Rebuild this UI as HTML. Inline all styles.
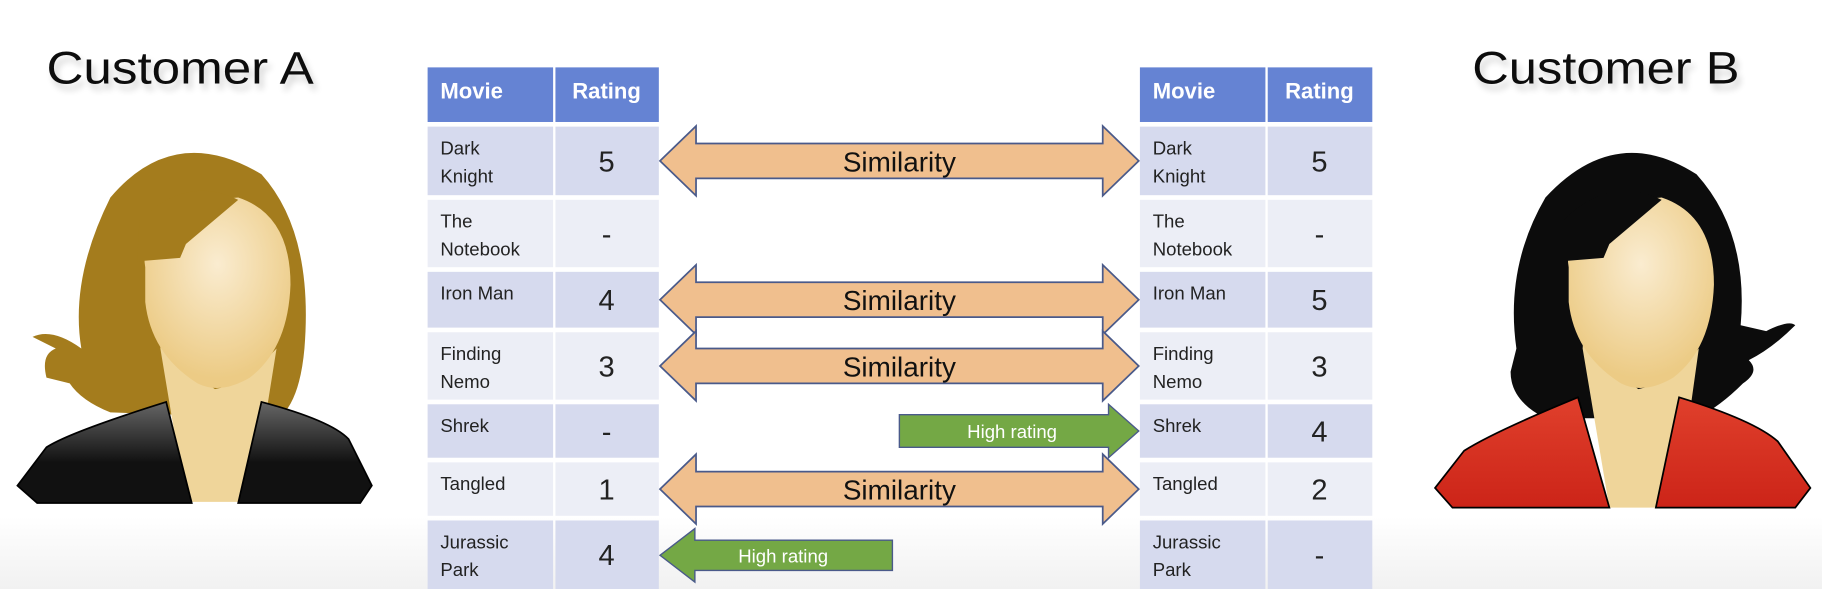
<!DOCTYPE html>
<html><head><meta charset="utf-8"><style>
html,body{margin:0;padding:0;background:#fff;}
svg{display:block;}
text{font-family:"Liberation Sans",sans-serif;}
</style></head><body>
<svg width="1822" height="589" viewBox="0 0 1568 507" preserveAspectRatio="none">
<defs>
<linearGradient id="bg" x1="0" y1="0" x2="0" y2="1"><stop offset="0" stop-color="#fff"/><stop offset="1" stop-color="#f1f1f1"/></linearGradient>
<radialGradient id="skin" cx="0.5" cy="0.35" r="0.6"><stop offset="0" stop-color="#faecd0"/><stop offset="1" stop-color="#eccb85"/></radialGradient>
<linearGradient id="blk" x1="0" y1="0" x2="0" y2="1"><stop offset="0" stop-color="#666"/><stop offset="0.6" stop-color="#111"/></linearGradient>
<linearGradient id="red" x1="0" y1="0" x2="0" y2="1"><stop offset="0" stop-color="#e0402c"/><stop offset="1" stop-color="#cc2418"/></linearGradient>
<filter id="sh" x="-10%" y="-30%" width="120%" height="160%"><feGaussianBlur in="SourceAlpha" stdDeviation="3"/><feOffset dx="3" dy="5"/><feComponentTransfer><feFuncA type="linear" slope="0.18"/></feComponentTransfer><feMerge><feMergeNode/><feMergeNode in="SourceGraphic"/></feMerge></filter>
</defs>
<rect x="0" y="0" width="1568" height="507" fill="#fff"/>
<rect x="0" y="445" width="1568" height="62" fill="url(#bg)"/>

<text x="40" y="72" font-size="39" fill="#111" textLength="230" lengthAdjust="spacingAndGlyphs" filter="url(#sh)">Customer A</text>
<text x="1267" y="72" font-size="39" fill="#111" textLength="230" lengthAdjust="spacingAndGlyphs" filter="url(#sh)">Customer B</text>

<g>
<path d="M70,300 Q60,240 95,170 Q150,105 225,150 Q270,200 262,300 Q258,345 240,360 L95,355 Q70,345 60,330 L40,325 Q35,305 48,300 L28,290 Q45,282 70,300 Z" fill="#a47c1d"/>
<path d="M138,300 L140,260 Q160,320 185,335 Q210,330 238,300 L230,350 L210,432 L160,432 Z" fill="#efd59a"/>
<path d="M125,230 Q120,200 150,175 L205,170 Q250,185 250,245 Q248,300 215,325 Q190,340 170,330 Q130,305 125,260 Z" fill="url(#skin)"/>
<path d="M118,225 L155,222 L160,210 L205,172 Q160,150 120,190 Z" fill="#a47c1d"/>
<path d="M15,418 L40,385 Q60,372 143,346 L165,433 L32,433 Z" fill="url(#blk)" stroke="#000" stroke-width="1.5"/>
<path d="M205,433 L225,346 Q285,362 300,378 L320,418 L310,433 Z" fill="url(#blk)" stroke="#000" stroke-width="1.5"/>
</g>

<g>
<path d="M1305,300 Q1295,230 1330,170 Q1390,105 1460,150 Q1505,200 1498,280 L1520,285 Q1540,275 1545,280 Q1525,300 1505,310 Q1515,320 1500,330 Q1480,350 1460,360 L1330,360 Q1300,345 1300,320 Z" fill="#0c0c0c"/>
<path d="M1362,300 L1365,260 Q1385,320 1410,335 Q1435,330 1462,300 L1455,350 L1440,437 L1385,437 Z" fill="#efd59a"/>
<path d="M1350,230 Q1345,200 1375,175 L1430,170 Q1475,185 1475,245 Q1473,300 1440,325 Q1415,340 1395,330 Q1355,305 1350,260 Z" fill="url(#skin)"/>
<path d="M1343,225 L1380,222 L1385,210 L1430,172 Q1385,150 1345,190 Z" fill="#0c0c0c"/>
<path d="M1235,420 L1260,388 Q1285,372 1358,342 L1385,437 L1250,437 Z" fill="url(#red)" stroke="#000" stroke-width="1.5"/>
<path d="M1425,437 L1445,342 Q1510,362 1530,380 L1558,420 L1545,437 Z" fill="url(#red)" stroke="#000" stroke-width="1.5"/>
</g>

<g id="tables"></g>
<g id="arrows"></g>
</svg>
<script>
const movies = [["Dark","Knight"],["The","Notebook"],["Iron Man"],["Finding","Nemo"],["Shrek"],["Tangled"],["Jurassic","Park"]];
const ratingsA = ["5","-","4","3","-","1","4"];
const ratingsB = ["5","-","5","3","4","2","-"];
const similarRows = [0,2,3,5];
const highRatingToB = [4];
const highRatingToA = [6];

const NS="http://www.w3.org/2000/svg";
const rowTop=[109,172,234,286,348,398,448];
const rowBot=[168,230,282,344,394,444,510];
function mk(tag,attrs,parent){const e=document.createElementNS(NS,tag);for(const k in attrs)e.setAttribute(k,attrs[k]);parent.appendChild(e);return e;}
const tg=document.getElementById('tables');
function table(x0,xd,x1,ratings,side){
  const g=mk('g',{},tg);
  
  
  mk('rect',{x:x0,y:58,width:xd-x0-1,height:47,fill:'#6583d3'},g);
  mk('rect',{x:xd+1,y:58,width:x1-xd-1,height:47,fill:'#6583d3'},g);
  const h1=mk('text',{x:x0+11,y:85,'font-size':19,'font-weight':'bold',fill:'#fff'},g);h1.textContent='Movie';
  
  
  const h2=mk('text',{x:(xd+x1)/2,y:85,'font-size':19,'font-weight':'bold',fill:'#fff','text-anchor':'middle'},g);h2.textContent='Rating';
  
  
  movies.forEach((m,i)=>{
    const fill=i%2===0?'#d6daee':'#eceef6';
    const r=mk('rect',{x:x0,y:rowTop[i],width:xd-x0-1,height:rowBot[i]-rowTop[i],fill:fill},g);
    
    
    mk('rect',{x:xd+1,y:rowTop[i],width:x1-xd-1,height:rowBot[i]-rowTop[i],fill:fill},g);
    m.forEach((line,j)=>{const t=mk('text',{x:x0+11,y:rowTop[i]+24+j*24,'font-size':16,fill:'#222'},g);t.textContent=line;
      
      });
    const v=mk('text',{x:(xd+x1)/2,y:(rowTop[i]+Math.min(rowBot[i],507))/2+9,'font-size':25,fill:'#222','text-anchor':'middle'},g);
    v.textContent=ratings[i];
    
    
  });
}
table(368,477,567,ratingsA,'a');
table(981,1090,1181,ratingsB,'b');

const ag=document.getElementById('arrows');
function center(i){return (rowTop[i]+Math.min(rowBot[i],507))/2;}
similarRows.forEach(i=>{
  const c=center(i),L=568,R=980,hl=31,sh=15,hh=30;
  const p=mk('path',{d:`M${L},${c} L${L+hl},${c-hh} L${L+hl},${c-sh} L${R-hl},${c-sh} L${R-hl},${c-hh} L${R},${c} L${R-hl},${c+hh} L${R-hl},${c+sh} L${L+hl},${c+sh} L${L+hl},${c+hh} Z`,fill:'#f0bf8e',stroke:'#4a5a8a','stroke-width':1.5},ag);
  
  
  const t=mk('text',{x:774,y:c+9,'font-size':24,fill:'#111','text-anchor':'middle'},ag);t.textContent='Similarity';
  
  
});
highRatingToB.forEach(i=>{
  const c=center(i),L=774,R=980,hl=26,sh=14,hh=23;
  const p=mk('path',{d:`M${L},${c-sh} L${R-hl},${c-sh} L${R-hl},${c-hh} L${R},${c} L${R-hl},${c+hh} L${R-hl},${c+sh} L${L},${c+sh} Z`,fill:'#74a845',stroke:'#4a5a8a','stroke-width':1.2},ag);
  
  
  const t=mk('text',{x:871,y:c+6,'font-size':16,fill:'#fff','text-anchor':'middle'},ag);t.textContent='High rating';
  
  
});
highRatingToA.forEach(i=>{
  const c=478,L=568,R=768,hl=30,sh=13,hh=23;
  const p=mk('path',{d:`M${L},${c} L${L+hl},${c-hh} L${L+hl},${c-sh} L${R},${c-sh} L${R},${c+sh} L${L+hl},${c+sh} L${L+hl},${c+hh} Z`,fill:'#74a845',stroke:'#4a5a8a','stroke-width':1.2},ag);
  
  
  const t=mk('text',{x:674,y:c+6,'font-size':16,fill:'#fff','text-anchor':'middle'},ag);t.textContent='High rating';
  
  
});
</script>
</body></html>
